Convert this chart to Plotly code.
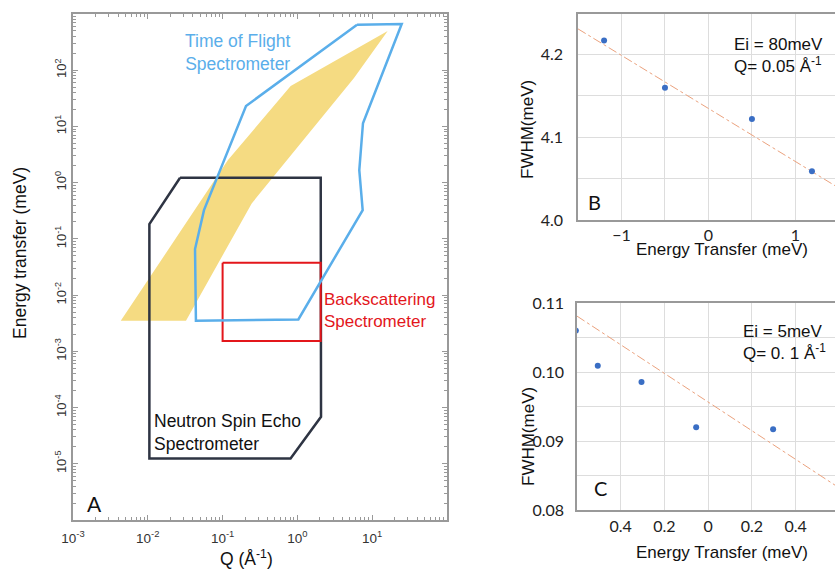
import plotly.graph_objects as go

W, H = 835, 571

# ---------------- Panel A data (Q in 1/Å, energy in meV) ----------------
tof_q = [6.27, 24.8, 7.53, 6.72, 7.46, 1.03, 0.044, 0.0428, 0.0564, 0.2056, 6.27]
tof_e = [645, 664, 11.4, 1.67, 0.325, 0.0037, 0.00349, 0.0659, 0.325, 23.1, 645]

band_q = [0.00435, 0.0324, 0.245, 5.71, 16.1, 0.813, 0.118, 0.00435]
band_e = [0.00349, 0.00349, 0.428, 72.6, 499, 52.4, 2.52, 0.00349]

nse_q = [0.027, 2.05, 2.07, 0.81, 0.0105, 0.0105, 0.027]
nse_e = [1.22, 1.22, 6.84e-5, 1.24e-5, 1.24e-5, 0.183, 1.22]

bs_q = [0.1, 2.05, 2.05, 0.1, 0.1]
bs_e = [0.0376, 0.0376, 0.00152, 0.00152, 0.0376]

a_xexp = [-3, -2, -1, 0, 1]
a_yexp = [-5, -4, -3, -2, -1, 0, 1, 2]

# ---------------- Panel B data ----------------
b_x = [-1.2, -0.5, 0.5, 1.19]
b_y = [4.217, 4.160, 4.122, 4.059]
b_fit_x = [-1.5, 1.455]
b_fit_y = [4.231, 4.0415]

# ---------------- Panel C data ----------------
c_x = [-0.605, -0.505, -0.305, -0.055, 0.297]
c_y = [0.1060, 0.1009, 0.09855, 0.0920, 0.0917]
c_fit_x = [-0.6, 0.58]
c_fit_y = [0.1081, 0.0836]
c_tickvals = [-0.4, -0.2, 0, 0.2, 0.4]
c_ticktext = ["0.4", "0.2", "0", "0.2", "0.4"]


def px(x):
    return x / W


def py(y):
    return 1 - y / H


def pow_labels(exps):
    return [10.0 ** e for e in exps], ["10<sup>%d</sup>" % e for e in exps]


def minor_vals(lo, hi):
    vals = []
    for e in range(lo, hi):
        for k in range(2, 10):
            vals.append(k * 10.0 ** e)
    return vals


fig = go.Figure()

# Panel A traces
fig.add_trace(go.Scatter(x=band_q, y=band_e, mode="lines", fill="toself",
                         fillcolor="#F5DB82", line=dict(width=0, color="#F5DB82"),
                         xaxis="x", yaxis="y", hoverinfo="skip"))
fig.add_trace(go.Scatter(x=nse_q, y=nse_e, mode="lines",
                         line=dict(color="#2E3443", width=2.5),
                         xaxis="x", yaxis="y"))
fig.add_trace(go.Scatter(x=bs_q, y=bs_e, mode="lines",
                         line=dict(color="#E3161B", width=2),
                         xaxis="x", yaxis="y"))
fig.add_trace(go.Scatter(x=tof_q, y=tof_e, mode="lines",
                         line=dict(color="#5AAEEA", width=2.5),
                         xaxis="x", yaxis="y"))

# Panel B traces
fig.add_trace(go.Scatter(x=b_fit_x, y=b_fit_y, mode="lines",
                         line=dict(color="#EBA27E", width=1, dash="dashdot"),
                         xaxis="x2", yaxis="y2"))
fig.add_trace(go.Scatter(x=b_x, y=b_y, mode="markers",
                         marker=dict(color="#3A6EC4", size=6),
                         xaxis="x2", yaxis="y2"))

# Panel C traces
fig.add_trace(go.Scatter(x=c_fit_x, y=c_fit_y, mode="lines",
                         line=dict(color="#EBA27E", width=1, dash="dashdot"),
                         xaxis="x3", yaxis="y3"))
fig.add_trace(go.Scatter(x=c_x, y=c_y, mode="markers",
                         marker=dict(color="#3A6EC4", size=6),
                         xaxis="x3", yaxis="y3"))

tickfontAx = dict(family="Liberation Sans, Arial", size=13.5, color="#333")
tickfontAy = dict(family="Liberation Sans, Arial", size=13, color="#333")
tickfontBC = dict(family="Lato, Open Sans", size=16, color="#222")

xtv, xtt = pow_labels(a_xexp)
ytv, ytt = pow_labels(a_yexp)

fig.update_layout(
    width=W, height=H, margin=dict(l=0, r=0, t=0, b=0, autoexpand=False),
    paper_bgcolor="white", plot_bgcolor="white", showlegend=False,
    xaxis=dict(type="log", domain=[px(73), px(447)], range=[-3, 2],
               tickmode="array", tickvals=xtv, ticktext=xtt,
               showline=True, linecolor="#999", linewidth=1.5,
               mirror="allticks", ticks="inside", ticklen=5, tickcolor="#999",
               minor=dict(tickmode="array", tickvals=minor_vals(-3, 2), ticks="inside",
                          ticklen=3, tickcolor="#999", showgrid=False),
               showgrid=False, zeroline=False, tickfont=tickfontAx,
               ticklabelstandoff=5, automargin=False, anchor="y"),
    yaxis=dict(type="log", domain=[py(520), py(14)], range=[-6, 3],
               tickmode="array", tickvals=ytv, ticktext=ytt,
               showline=True, linecolor="#999", linewidth=1.5,
               mirror="allticks", ticks="inside", ticklen=5, tickcolor="#999",
               minor=dict(tickmode="array", tickvals=minor_vals(-6, 3), ticks="inside",
                          ticklen=3, tickcolor="#999", showgrid=False),
               showgrid=False, zeroline=False, tickfont=tickfontAy,
               tickangle=-90, automargin=False, anchor="x"),
    xaxis2=dict(domain=[px(578), 1.0], range=[-1.5, 1.455], dtick=1, tick0=0,
                showline=True, linecolor="#999", linewidth=1.5, mirror=True,
                showgrid=True, gridcolor="#DDDDDD", gridwidth=1,
                minor=dict(dtick=0.5, showgrid=True, gridcolor="#DDDDDD"),
                ticks="", ticklabelstandoff=0, zeroline=False, tickfont=tickfontBC,
                automargin=False, anchor="y2"),
    yaxis2=dict(domain=[py(220), py(14)], range=[4.0, 4.249], dtick=0.1, tick0=4.0,
                tickformat=".1f", showline=True, linecolor="#999", linewidth=1.5,
                showgrid=True, gridcolor="#DDDDDD", gridwidth=1,
                minor=dict(dtick=0.05, showgrid=True, gridcolor="#DDDDDD"),
                ticks="", ticklabelstandoff=10, zeroline=False, tickfont=tickfontBC,
                automargin=False, anchor="x2"),
    xaxis3=dict(domain=[px(577), 1.0], range=[-0.6, 0.58], tickmode="array",
                tickvals=c_tickvals, ticktext=c_ticktext,
                showline=True, linecolor="#999", linewidth=1.5, mirror=True,
                showgrid=True, gridcolor="#DDDDDD", gridwidth=1,
                ticks="", ticklabelstandoff=1, zeroline=False, tickfont=tickfontBC,
                automargin=False, anchor="y3"),
    yaxis3=dict(domain=[py(510), py(303)], range=[0.08, 0.11], dtick=0.01, tick0=0.08,
                tickformat=".2f", showline=True, linecolor="#999", linewidth=1.5,
                showgrid=True, gridcolor="#DDDDDD", gridwidth=1,
                minor=dict(dtick=0.005, showgrid=True, gridcolor="#DDDDDD"),
                ticks="", ticklabelstandoff=8, zeroline=False, tickfont=tickfontBC,
                automargin=False, anchor="x3"),
)

arial = "Liberation Sans, Arial"
ann = []


def add_text(text, x, y, size, color="#111", xanchor="center", yanchor="middle",
             angle=0, family=arial, align="center"):
    ann.append(dict(text=text, x=px(x), y=py(y), xref="paper", yref="paper",
                    showarrow=False, xanchor=xanchor, yanchor=yanchor,
                    textangle=angle, align=align,
                    font=dict(family=family, size=size, color=color)))


# Panel A labels
add_text("Time of Flight<br>Spectrometer", 237, 52, 17.5, color="#5AAEEA")
add_text("Backscattering<br>Spectrometer", 322, 310, 17, color="#E3161B",
         xanchor="left", align="left")
add_text("Neutron Spin Echo<br>Spectrometer", 152, 432, 17.5, color="#111",
         xanchor="left", align="left")
add_text("A", 94, 503, 21, family="Lato, Liberation Sans")
add_text("Energy transfer (meV)", 20, 253, 17.5, angle=-90)
add_text("Q (Å<sup>-1</sup>)", 246, 558, 17.5)

# Panel B labels
add_text("Ei = 80meV<br>Q= 0.05 Å<sup>-1</sup>", 732, 56, 17, xanchor="left", align="left")
add_text("B", 594, 202, 20, family="Lato, Liberation Sans")
add_text("Energy Transfer (meV)", 722, 249, 17)
add_text("FWHM(meV)", 528, 130, 17, angle=-90)

# Panel C labels
add_text("Ei = 5meV<br>Q= 0. 1 Å<sup>-1</sup>", 741, 342, 17, xanchor="left", align="left")
add_text("C", 600, 488, 20, family="Lato, Liberation Sans")
add_text("Energy Transfer (meV)", 722, 552, 17)
add_text("FWHM(meV)", 528, 437, 17, angle=-90)

fig.update_layout(annotations=ann)

fig.write_html("out.html")
